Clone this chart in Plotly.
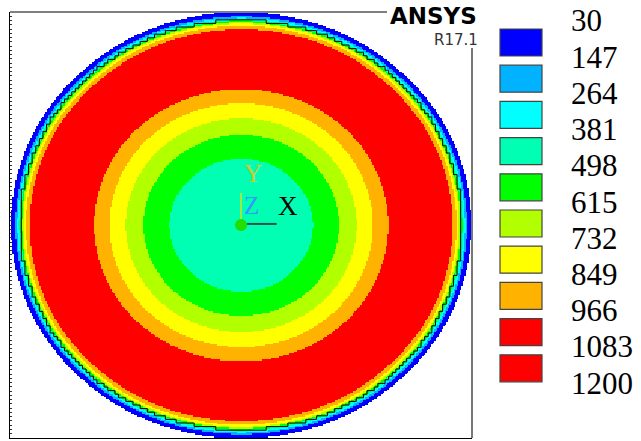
import numpy as np
import plotly.graph_objects as go

# Contour levels and the fill colour of each band between consecutive levels
levels = [30, 147, 264, 381, 498, 615, 732, 849, 966, 1083, 1200]
band_colors = ["#0000FF", "#00B2FF", "#00FFFF", "#00FFB2", "#00FF00",
               "#B2FF00", "#FFFF00", "#FFB200", "#FF0000", "#FF0000"]

# Radial temperature profile of the disk: outer normalised radius of each ring
# and the temperature carried by that ring (centre -> rim)
ring_radius = [0.311, 0.424, 0.501, 0.572, 0.639, 0.918, 0.935, 0.945,
               0.952, 0.959, 0.965, 0.972, 0.980, 1.0]
ring_temp = [440, 556, 673, 790, 907, 1140, 907, 790,
             673, 556, 440, 322, 205, 88]

# Radius of the stair-stepped mesh boundary drawn inside the rim
mesh_edge_radius = 0.961

# ---- frame geometry (pixels) ----
W, H = 641, 441
L, R_, T, B = 10, 472, 12, 438
PW, PH = R_ - L, B - T
XR = 1.004  # half x-range of the view

def px(x):
    return (x - L) / PW

def py(y):
    return (B - y) / PH

# ---- temperature field on a grid ----
nx, ny = 308, 284
xs = np.linspace(-XR, XR, nx)
ys = np.linspace(-1.0, 1.0, ny)
X, Y = np.meshgrid(xs, ys)
Rr = np.sqrt(X ** 2 + Y ** 2)
idx = np.searchsorted(np.array(ring_radius), Rr)
temps = np.array(ring_temp + [np.nan], dtype=float)
Z = temps[np.minimum(idx, len(ring_temp))]

zmin, zmax = levels[0], levels[-1]
colorscale = []
for i, c in enumerate(band_colors):
    a = (levels[i] - zmin) / (zmax - zmin)
    b = (levels[i + 1] - zmin) / (zmax - zmin)
    colorscale.append([a, c])
    colorscale.append([b, c])

fig = go.Figure()
fig.add_trace(go.Heatmap(
    x=xs, y=ys, z=Z, zmin=zmin, zmax=zmax, colorscale=colorscale,
    showscale=False, zsmooth=False, hoverinfo="skip"))

# ---- stair-stepped element boundary ----
sx, sy = 3.6 / 230, 3.6 / 213
th = np.linspace(0, 2 * np.pi, 5000)
gx = np.round(mesh_edge_radius * np.cos(th) / sx).astype(int)
gy = np.round(mesh_edge_radius * np.sin(th) / sy).astype(int)
pts = []
for a, b in zip(gx, gy):
    if not pts or (a, b) != pts[-1]:
        pts.append((a, b))
path = [pts[0]]
for p in pts[1:]:
    prev = path[-1]
    if p[0] != prev[0] and p[1] != prev[1]:
        c1 = (p[0], prev[1])
        c2 = (prev[0], p[1])
        r1 = (c1[0] * sx) ** 2 + (c1[1] * sy) ** 2
        r2 = (c2[0] * sx) ** 2 + (c2[1] * sy) ** 2
        path.append(c1 if r1 > r2 else c2)
    path.append(p)
fig.add_trace(go.Scatter(
    x=[q[0] * sx for q in path], y=[q[1] * sy for q in path],
    mode="lines", line=dict(color="black", width=1), hoverinfo="skip"))

# ---- coordinate triad at the origin ----
triad_len = 0.13
fig.add_trace(go.Scatter(x=[0.025, 0.025 + triad_len], y=[0.005, 0.005], mode="lines",
                         line=dict(color="#1f4f4f", width=2), hoverinfo="skip"))
fig.add_trace(go.Scatter(x=[0.0, 0.0], y=[0.02, 0.15], mode="lines",
                         line=dict(color="#d8e020", width=1.5), hoverinfo="skip"))
fig.add_trace(go.Scatter(x=[0], y=[0], mode="markers",
                         marker=dict(color="#22dd00", size=12), hoverinfo="skip"))

shapes = []
annotations = []

# frame lines: top (stops before the logo) and right (starts below the release)
shapes.append(dict(type="line", xref="paper", yref="paper",
                   x0=px(L), x1=px(387), y0=py(T), y1=py(T),
                   line=dict(color="black", width=1.2)))
shapes.append(dict(type="line", xref="paper", yref="paper",
                   x0=px(472), x1=px(472), y0=py(48), y1=py(B),
                   line=dict(color="#777777", width=2)))

SERIF = "Liberation Serif, Times New Roman, serif"

# legend boxes and level labels
for k, c in enumerate(band_colors):
    top = 29 + 36.2 * k
    shapes.append(dict(type="rect", xref="paper", yref="paper",
                       x0=px(500), x1=px(542), y0=py(top + 27), y1=py(top),
                       fillcolor=c, line=dict(color="#444444", width=1.2)))
for k, v in enumerate(levels):
    annotations.append(dict(xref="paper", yref="paper", x=px(569), y=py(21 + 36.2 * k),
                            xanchor="left", yanchor="middle", showarrow=False,
                            text=str(v),
                            font=dict(family=SERIF, size=31, color="black")))

annotations.append(dict(xref="paper", yref="paper", x=px(479), y=py(16),
                        xanchor="right", yanchor="middle", showarrow=False, text="<b>ANSYS</b>",
                        font=dict(family="DejaVu Sans", size=23, color="black")))
annotations.append(dict(xref="paper", yref="paper", x=px(480), y=py(40),
                        xanchor="right", yanchor="middle", showarrow=False, text="R17.1",
                        font=dict(family="DejaVu Sans", size=15, color="#333333")))

# triad labels
annotations.append(dict(xref="paper", yref="paper", x=px(253), y=py(173),
                        xanchor="center", yanchor="middle", showarrow=False, text="Y",
                        font=dict(family=SERIF, size=25, color="#c8cc30")))
annotations.append(dict(xref="paper", yref="paper", x=px(251), y=py(205),
                        xanchor="center", yanchor="middle", showarrow=False, text="Z",
                        font=dict(family=SERIF, size=25, color="#3399ff")))
annotations.append(dict(xref="paper", yref="paper", x=px(288), y=py(206),
                        xanchor="center", yanchor="middle", showarrow=False, text="X",
                        font=dict(family=SERIF, size=27, color="black")))

fig.update_layout(
    width=W, height=H,
    margin=dict(l=L, r=W - R_, t=T, b=H - B, pad=0),
    paper_bgcolor="white", plot_bgcolor="white",
    showlegend=False,
    shapes=shapes, annotations=annotations,
    xaxis=dict(range=[-XR, XR], showgrid=False, zeroline=False, showticklabels=False,
               showline=True, linecolor="black", linewidth=1.2, ticks=""),
    yaxis=dict(range=[-1, 1], showgrid=False, zeroline=False, showticklabels=False,
               showline=True, linecolor="black", linewidth=1.2,
               ticks="inside", ticklen=2, tickwidth=1, tickcolor="#333333",
               tick0=-1, dtick=0.02),
)

fig.write_html("out.html")
